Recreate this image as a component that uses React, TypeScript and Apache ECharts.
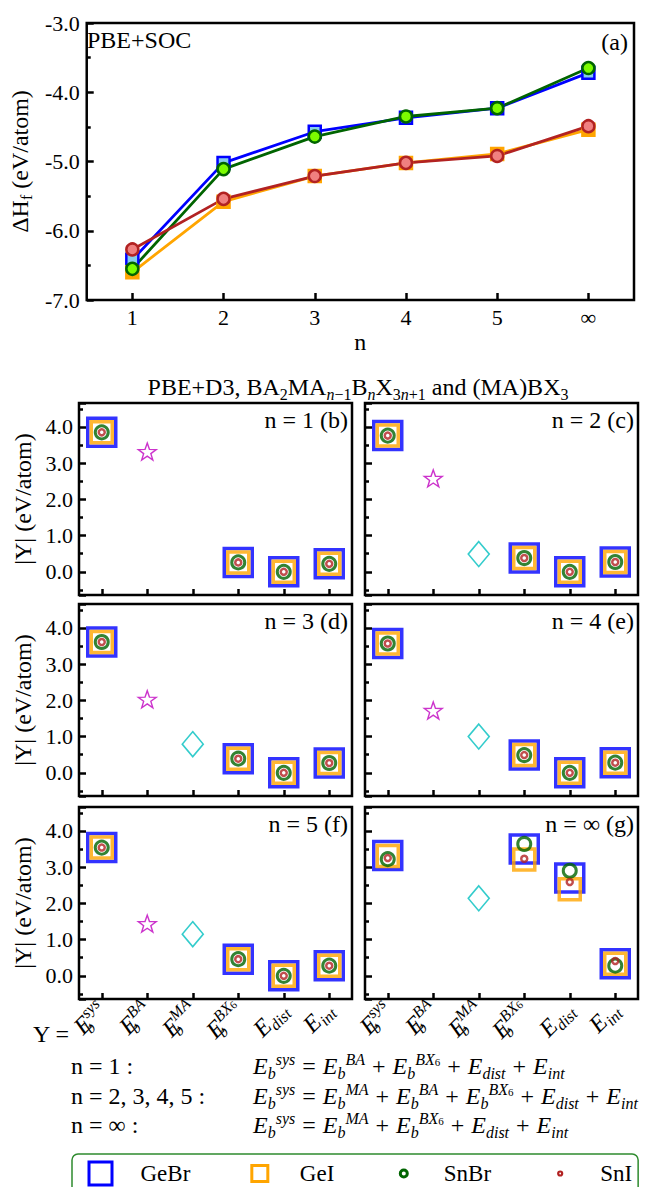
import React, { useEffect, useRef } from 'react';
import * as echarts from 'echarts';

const FONT = '"Liberation Serif", "Times New Roman", serif';
const BLACK = '#000000';

// ---------- panel (a): formation enthalpy, PBE+SOC ----------
const nCategories = ['1', '2', '3', '4', '5', '∞'];
const dhGeBr = [-6.42, -5.02, -4.57, -4.37, -4.23, -3.72];
const dhGeI = [-6.6, -5.58, -5.21, -5.02, -4.89, -4.54];
const dhSnBr = [-6.55, -5.11, -4.64, -4.35, -4.23, -3.65];
const dhSnI = [-6.27, -5.54, -5.21, -5.02, -4.92, -4.49];

// ---------- panels (b)-(g): binding energies, PBE+D3 ----------
const termCategories = ['Esys', 'EBA', 'EMA', 'EBX6', 'Edist', 'Eint'];
const panelTitles = ['n = 1 (b)', 'n = 2 (c)', 'n = 3 (d)', 'n = 4 (e)', 'n = 5 (f)', 'n = ∞ (g)'];
const ebGeBr = [
  [3.85, null, null, 0.26, 0.0, 0.22],
  [3.76, null, null, 0.38, 0.0, 0.27],
  [3.61, null, null, 0.39, 0.0, 0.27],
  [3.57, null, null, 0.49, 0.0, 0.28],
  [3.54, null, null, 0.46, 0.0, 0.28],
  [3.32, null, null, 3.5, 2.7, 0.33],
];
const ebGeI = [
  [3.85, null, null, 0.26, 0.0, 0.22],
  [3.76, null, null, 0.38, 0.0, 0.27],
  [3.61, null, null, 0.39, 0.0, 0.27],
  [3.57, null, null, 0.49, 0.0, 0.28],
  [3.54, null, null, 0.46, 0.0, 0.28],
  [3.31, null, null, 3.21, 2.39, 0.33],
];
const ebSnBr = [
  [3.85, null, null, 0.26, 0.0, 0.22],
  [3.76, null, null, 0.38, 0.0, 0.27],
  [3.61, null, null, 0.39, 0.0, 0.27],
  [3.57, null, null, 0.49, 0.0, 0.28],
  [3.54, null, null, 0.46, 0.0, 0.28],
  [3.22, null, null, 3.64, 2.9, 0.28],
];
const ebSnI = [
  [3.85, null, null, 0.26, 0.0, 0.22],
  [3.76, null, null, 0.38, 0.0, 0.27],
  [3.61, null, null, 0.39, 0.0, 0.27],
  [3.57, null, null, 0.49, 0.0, 0.28],
  [3.54, null, null, 0.46, 0.0, 0.28],
  [3.25, null, null, 3.23, 2.59, 0.41],
];
const ebBA = [3.32, 2.58, 2.03, 1.72, 1.44, null];
const ebMA = [null, 0.49, 0.79, 1.0, 1.15, 2.14];

// ---------- styles ----------
const C_BLUE = '#0000ff';
const C_ORANGE = '#ffa500';
const C_GREEN = '#006400';
const C_RED = '#b22222';
const C_MAG = '#bf00bf';
const C_CYAN = '#00bfbf';
const NONE = 'rgba(0,0,0,0)';

const starPath = (() => {
  let d = '';
  for (let k = 0; k < 10; k++) {
    const r = k % 2 === 0 ? 50 : 20;
    const a = -Math.PI / 2 + (k * Math.PI) / 5;
    d += (k === 0 ? 'M' : 'L') + (50 + r * Math.cos(a)).toFixed(2) + ',' + (50 + r * Math.sin(a)).toFixed(2) + ' ';
  }
  return 'path://' + d + 'Z';
})();

const mathRich = (big: number, small: number, lh: number, opPad: number) => ({
  E: { fontFamily: FONT, fontStyle: 'italic', fontSize: big, lineHeight: lh, color: BLACK },
  t: { fontFamily: FONT, fontSize: big, lineHeight: lh, color: BLACK },
  op: { fontFamily: FONT, fontSize: big, lineHeight: lh, color: BLACK, padding: [0, opPad, 0, opPad] },
  up: { fontFamily: FONT, fontStyle: 'italic', fontSize: small, verticalAlign: 'top', color: BLACK },
  dn0: { fontFamily: FONT, fontStyle: 'italic', fontSize: small, verticalAlign: 'bottom', width: 0, color: BLACK },
  dn: { fontFamily: FONT, fontStyle: 'italic', fontSize: small, verticalAlign: 'bottom', color: BLACK },
  up6: { fontFamily: FONT, fontSize: Math.round(small * 0.7), verticalAlign: 'top', padding: [Math.round(small * 0.3), 0, 0, 0], color: BLACK },
});

// stacked sub/superscripts for the rotated axis labels
const termLabel: Record<string, string> = {
  Esys: '{E|E}{dn0|b}{up|sys}',
  EBA: '{E|E}{dn0|b}{up|BA}',
  EMA: '{E|E}{dn0|b}{up|MA}',
  EBX6: '{E|E}{dn0|b}{up|BX}{up6|6}',
  Edist: '{E|E}{dn|dist}',
  Eint: '{E|E}{dn|int}',
};
// sub then superscript for the equations
const termEq: Record<string, string> = {
  Esys: '{E|E}{dn|b}{up|sys}',
  EBA: '{E|E}{dn|b}{up|BA}',
  EMA: '{E|E}{dn|b}{up|MA}',
  EBX6: '{E|E}{dn|b}{up|BX}{up6|6}',
  Edist: '{E|E}{dn|dist}',
  Eint: '{E|E}{dn|int}',
};

const formulaRows = [
  { left: 'n = 1 :', terms: ['Esys', '=', 'EBA', '+', 'EBX6', '+', 'Edist', '+', 'Eint'] },
  { left: 'n = 2, 3, 4, 5 :', terms: ['Esys', '=', 'EMA', '+', 'EBA', '+', 'EBX6', '+', 'Edist', '+', 'Eint'] },
  { left: 'n = ∞ :', terms: ['Esys', '=', 'EMA', '+', 'EBX6', '+', 'Edist', '+', 'Eint'] },
];

function buildOption() {
  const grid: any[] = [{ left: 79, top: 23, width: 555, height: 277 }];
  const colLeft = [79, 365];
  const rowTop = [403, 604, 807];
  for (let p = 0; p < 6; p++) {
    grid.push({ left: colLeft[p % 2], top: rowTop[Math.floor(p / 2)], width: 273, height: 192 });
  }
  grid.forEach((g) => Object.assign(g, { show: true, borderColor: BLACK, borderWidth: 2.5, backgroundColor: NONE }));

  const tick = { show: true, inside: true, length: 7, lineStyle: { color: BLACK, width: 2.5 } };
  const minor = { show: true, splitNumber: 2, length: 4, lineStyle: { color: BLACK, width: 2.5 } };
  const tickFont = { fontFamily: FONT, fontSize: 22, color: BLACK };

  const xAxis: any[] = [
    {
      type: 'category', gridIndex: 0, data: nCategories, boundaryGap: true,
      axisLine: { show: false, onZero: false },
      axisTick: { ...tick, alignWithLabel: true, interval: 0 },
      axisLabel: { ...tickFont, margin: 6, interval: 0 },
      splitLine: { show: false },
      name: 'n', nameLocation: 'middle', nameGap: 30,
      nameTextStyle: { fontFamily: FONT, fontSize: 24, color: BLACK },
    },
  ];
  const yAxis: any[] = [
    {
      type: 'value', gridIndex: 0, min: -7, max: -3, interval: 1,
      axisLine: { show: false, onZero: false },
      axisTick: tick, minorTick: minor,
      axisLabel: { ...tickFont, margin: 7, formatter: (v: number) => v.toFixed(1) },
      splitLine: { show: false },
      name: '{m|ΔH}{s|f}{m| (eV/atom)}', nameLocation: 'middle', nameGap: 44, nameRotate: 90,
      nameTextStyle: {
        rich: {
          m: { fontFamily: FONT, fontSize: 24, color: BLACK, lineHeight: 28 },
          s: { fontFamily: FONT, fontSize: 16, color: BLACK, verticalAlign: 'bottom' },
        },
      },
    },
  ];

  const labRich = mathRich(24, 16, 30, 0);
  for (let p = 0; p < 6; p++) {
    xAxis.push({
      type: 'category', gridIndex: p + 1, data: termCategories, boundaryGap: true,
      axisLine: { show: false, onZero: false },
      axisTick: { ...tick, length: 6, alignWithLabel: true, interval: 0 },
      axisLabel: {
        show: p >= 4, interval: 0, rotate: 45, margin: 7,
        formatter: (v: string) => termLabel[v], rich: labRich,
      },
      splitLine: { show: false },
    });
    yAxis.push({
      type: 'value', gridIndex: p + 1, min: -0.64, max: 4.66, minInterval: 1, maxInterval: 1,
      axisLine: { show: false, onZero: false },
      axisTick: tick, minorTick: minor,
      axisLabel: {
        ...tickFont, margin: 6, show: p % 2 === 0,
        formatter: (v: number) => (Math.abs(v - Math.round(v)) < 1e-6 ? v.toFixed(1) : ''),
      },
      splitLine: { show: false },
      name: p % 2 === 0 ? '|Υ| (eV/atom)' : '', nameLocation: 'middle', nameGap: 44, nameRotate: 90,
      nameTextStyle: { fontFamily: FONT, fontSize: 24, color: BLACK },
    });
  }

  const series: any[] = [];
  // (a)
  const lineDefs = [
    { name: 'GeBr', data: dhGeBr, symbol: 'rect', line: C_BLUE, fill: '#87ceeb', border: C_BLUE },
    { name: 'GeI', data: dhGeI, symbol: 'rect', line: C_ORANGE, fill: C_ORANGE, border: C_ORANGE },
    { name: 'SnBr', data: dhSnBr, symbol: 'circle', line: C_GREEN, fill: '#7cfc00', border: C_GREEN },
    { name: 'SnI', data: dhSnI, symbol: 'circle', line: C_RED, fill: '#f08080', border: C_RED },
  ];
  lineDefs.forEach((d) => {
    series.push({
      type: 'line', name: d.name, xAxisIndex: 0, yAxisIndex: 0, data: d.data,
      symbol: d.symbol, symbolSize: 12, showSymbol: true,
      lineStyle: { color: d.line, width: 2.8 },
      itemStyle: { color: d.fill, borderColor: d.border, borderWidth: 2.5 },
      emphasis: { disabled: true }, silent: true,
    });
  });
  // (b)-(g)
  const clean = (arr: (number | null)[]) => arr.map((v) => (v == null ? '-' : v));
  const scatDefs = [
    { name: 'GeBr', src: ebGeBr, symbol: 'rect', size: 28, color: C_BLUE, bw: 3.5 },
    { name: 'GeI', src: ebGeI, symbol: 'rect', size: 21, color: C_ORANGE, bw: 3.5 },
    { name: 'SnBr', src: ebSnBr, symbol: 'circle', size: 13, color: C_GREEN, bw: 3 },
    { name: 'SnI', src: ebSnI, symbol: 'circle', size: 6, color: C_RED, bw: 2.5 },
  ];
  for (let p = 0; p < 6; p++) {
    scatDefs.forEach((d) => {
      series.push({
        type: 'scatter', name: d.name, xAxisIndex: p + 1, yAxisIndex: p + 1,
        data: clean(d.src[p]), symbol: d.symbol, symbolSize: d.size,
        itemStyle: { color: NONE, borderColor: d.color, borderWidth: d.bw },
        emphasis: { disabled: true }, silent: true,
      });
    });
    if (ebBA[p] != null) {
      series.push({
        type: 'scatter', name: 'E_b^BA', xAxisIndex: p + 1, yAxisIndex: p + 1,
        data: [[termCategories[1], ebBA[p]]], symbol: starPath, symbolSize: [18, 17],
        itemStyle: { color: NONE, borderColor: C_MAG, borderWidth: 1.4 },
        emphasis: { disabled: true }, silent: true,
      });
    }
    if (ebMA[p] != null) {
      series.push({
        type: 'scatter', name: 'E_b^MA', xAxisIndex: p + 1, yAxisIndex: p + 1,
        data: [[termCategories[2], ebMA[p]]], symbol: 'diamond', symbolSize: [21, 25],
        itemStyle: { color: NONE, borderColor: C_CYAN, borderWidth: 1.6 },
        emphasis: { disabled: true }, silent: true,
      });
    }
  }

  // graphic texts
  const txt = (x: number, y: number, text: string, extra: any = {}) => ({
    type: 'text', x, y, silent: true,
    style: {
      text, fill: BLACK, fontFamily: FONT, fontSize: 24,
      textAlign: 'left', textVerticalAlign: 'middle', align: 'left', verticalAlign: 'middle',
      ...extra,
    },
  });
  const right = { textAlign: 'right', align: 'right' };
  const center = { textAlign: 'center', align: 'center' };
  const graphic: any[] = [
    txt(87, 40, 'PBE+SOC'),
    txt(628, 42, '(a)', right),
  ];
  const annX = [348, 634];
  const annY = [420, 621, 824];
  for (let p = 0; p < 6; p++) graphic.push(txt(annX[p % 2], annY[Math.floor(p / 2)], panelTitles[p], right));

  const titleRich = {
    a: { fontFamily: FONT, fontSize: 24, color: BLACK, lineHeight: 30 },
    s: { fontFamily: FONT, fontSize: 16, color: BLACK, verticalAlign: 'bottom' },
    si: { fontFamily: FONT, fontSize: 16, fontStyle: 'italic', color: BLACK, verticalAlign: 'bottom' },
  };
  graphic.push(txt(358, 387, '{a|PBE+D3, BA}{s|2}{a|MA}{si|n}{s|−1}{a|B}{si|n}{a|X}{s|3}{si|n}{s|+1}{a| and (MA)BX}{s|3}', { ...center, rich: titleRich }));

  graphic.push(txt(33, 1034, 'Υ ='));
  const fRich = mathRich(24, 16, 30, 7);
  const fy = [1066, 1096, 1125];
  formulaRows.forEach((row, i) => {
    graphic.push(txt(71, fy[i], row.left));
    const s = row.terms.map((t) => (t === '=' || t === '+' ? `{op|${t}}` : termEq[t])).join('');
    graphic.push(txt(253, fy[i], s, { rich: fRich }));
  });

  const legend = {
    left: 72, top: 1154, orient: 'horizontal', selectedMode: false,
    itemWidth: 26, itemHeight: 26, itemGap: 55,
    padding: [5, 6, 30, 14],
    borderColor: '#2e8b2e', borderWidth: 1.5, borderRadius: 6,
    textStyle: { fontFamily: FONT, fontSize: 23, color: BLACK, padding: [0, 0, 0, 22] },
    data: [
      { name: 'GeBr', icon: 'path://M0,0M26,26M1.5,1.5L24.5,1.5L24.5,24.5L1.5,24.5Z', itemStyle: { color: NONE, borderColor: C_BLUE, borderWidth: 3 } },
      { name: 'GeI', icon: 'path://M0,0M26,26M5,5L21,5L21,21L5,21Z', itemStyle: { color: NONE, borderColor: C_ORANGE, borderWidth: 3 } },
      { name: 'SnBr', icon: 'path://M0,0M26,26M16.5,13A3.5,3.5,0,1,1,9.5,13A3.5,3.5,0,1,1,16.5,13Z', itemStyle: { color: NONE, borderColor: C_GREEN, borderWidth: 3 } },
      { name: 'SnI', icon: 'path://M0,0M26,26M15,13A2,2,0,1,1,11,13A2,2,0,1,1,15,13Z', itemStyle: { color: NONE, borderColor: C_RED, borderWidth: 2.2 } },
    ],
  };

  return {
    animation: false,
    backgroundColor: '#ffffff',
    grid, xAxis, yAxis, series, graphic, legend,
    tooltip: { show: false },
  };
}

export default function App() {
  const ref = useRef<HTMLDivElement>(null);
  useEffect(() => {
    document.body.style.margin = '0';
    const chart = echarts.init(ref.current as HTMLDivElement, null, { renderer: 'svg', width: 649, height: 1187 });
    chart.setOption(buildOption() as any);
    return () => chart.dispose();
  }, []);
  return <div ref={ref} style={{ width: 649, height: 1187, background: '#fff' }} />;
}
